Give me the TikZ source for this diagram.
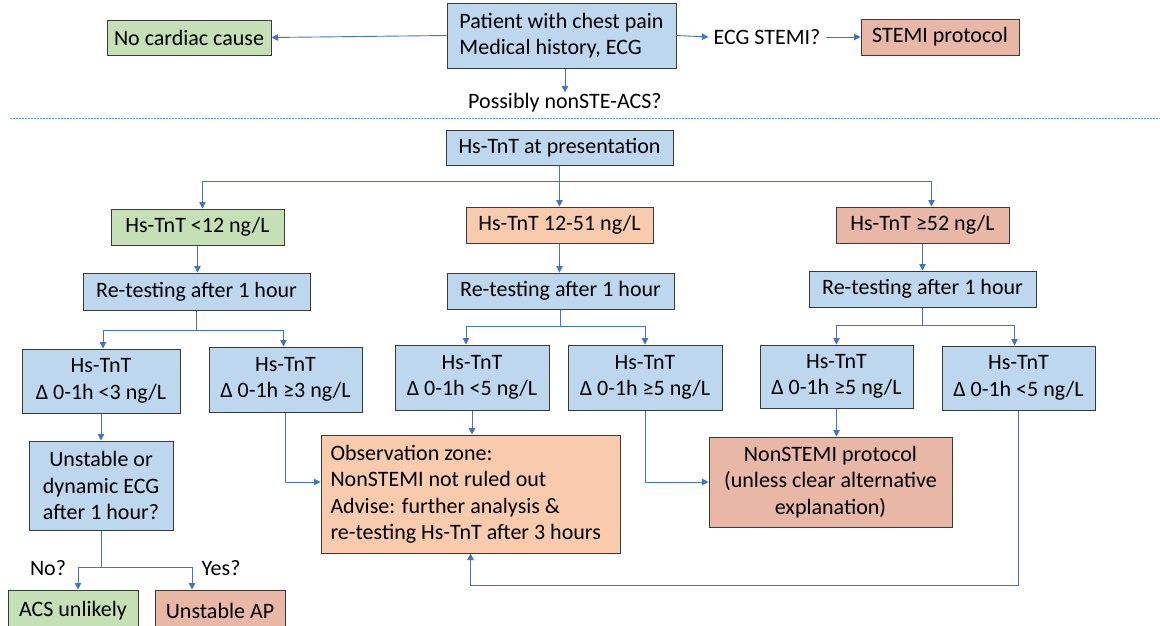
\documentclass[tikz,border=0pt]{standalone}
\usepackage{fontspec}
\setmainfont{Carlito}
\usetikzlibrary{arrows.meta,calc}
\definecolor{bfill}{HTML}{BDD7EE}
\definecolor{gfill}{HTML}{C5E0B4}
\definecolor{ofill}{HTML}{F8CBAD}
\definecolor{rfill}{HTML}{E9B7A6}
\definecolor{lcol}{HTML}{4472C4}
\definecolor{dcol}{HTML}{5B9BD5}
\definecolor{bcol}{HTML}{3A3A3A}
\tikzset{
  bx/.style={draw=bcol, line width=1pt, inner sep=2pt, font=\fontsize{22}{26.5}\selectfont, align=center},
  bluebx/.style={bx, fill=bfill},
  greenbx/.style={bx, fill=gfill},
  orangebx/.style={bx, fill=ofill},
  redbx/.style={bx, fill=rfill},
  lbl/.style={inner sep=1pt, font=\fontsize{22}{26.5}\selectfont},
  ln/.style={draw=lcol, line width=0.9pt},
  arr/.style={ln, -{Triangle[width=6.5pt,length=6.5pt]}},
  dotl/.style={draw=dcol, line width=0.8pt, dash pattern=on 1.5pt off 1.5pt}
}
\begin{document}
\begin{tikzpicture}[x=1pt,y=-1pt]
\clip (0,0) rectangle (1160,625);
\fill[white] (0,0) rectangle (1160,625);
% top
\node[greenbx, minimum width=164pt, minimum height=35pt] (nocard) at (189,37.5) {No cardiac cause};
\node[bluebx, minimum width=229pt, minimum height=65pt, align=left] (patient) at (561.5,35.5) {Patient with chest pain\\Medical history, ECG};
\node[lbl, inner xsep=5pt] (ecg) at (767,37) {ECG STEMI?};
\node[redbx, minimum width=158pt, minimum height=36pt] (stemi) at (940,37) {STEMI protocol};
\node[lbl] (possibly) at (565,103) {Possibly nonSTE-ACS?};
\draw[arr] (patient.west) -- (nocard.east);
\draw[arr] (patient.east) -- (ecg.west);
\draw[arr] (ecg.east) -- (stemi.west);
\draw[arr] ([xshift=3.5pt]patient.south) -- (possibly.north);
\coordinate (dl) at (10,118);
\coordinate (dr) at (1160,118);
\draw[dotl] (dl) -- (dr);
% presentation
\node[bluebx, minimum width=227pt, minimum height=35pt] (pres) at (559.5,147.5) {Hs-TnT at presentation};
\node[greenbx, minimum width=173pt, minimum height=36pt] (t1) at (197.5,227) {Hs-TnT <12 ng/L};
\node[orangebx, minimum width=187pt, minimum height=36pt] (t2) at (559.5,225) {Hs-TnT 12-51 ng/L};
\node[redbx, minimum width=173pt, minimum height=36pt] (t3) at (922.5,225) {Hs-TnT ≥52 ng/L};
\draw[ln] (pres.south) -- ++(0,16) coordinate (j0);
\draw[arr] (j0) -| ([xshift=5pt]t1.north);
\draw[arr] (j0) -- (t2.north);
\draw[arr] (j0) -| ([xshift=9pt]t3.north);
% retesting
\node[bluebx, minimum width=227pt, minimum height=37pt] (r1) at (196.5,291.5) {Re-testing after 1 hour};
\node[bluebx, minimum width=227pt, minimum height=36pt] (r2) at (560.5,291) {Re-testing after 1 hour};
\node[bluebx, minimum width=227pt, minimum height=36pt] (r3) at (922.5,289) {Re-testing after 1 hour};
\draw[arr] (t1.south) -- (t1.south |- r1.north);
\draw[arr] (t2.south) -- (t2.south |- r2.north);
\draw[arr] (t3.south) -- (t3.south |- r3.north);
% delta boxes
\node[bluebx, minimum width=158pt, minimum height=64pt] (d11) at (101,381) {Hs-TnT\\Δ 0-1h <3 ng/L};
\node[bluebx, minimum width=153pt, minimum height=65pt] (d12) at (285.5,379.5) {Hs-TnT\\Δ 0-1h ≥3 ng/L};
\node[bluebx, minimum width=154pt, minimum height=65pt] (d21) at (472,377.5) {Hs-TnT\\Δ 0-1h <5 ng/L};
\node[bluebx, minimum width=154pt, minimum height=65pt] (d22) at (645,377.5) {Hs-TnT\\Δ 0-1h ≥5 ng/L};
\node[bluebx, minimum width=153pt, minimum height=63pt] (d31) at (836.5,376.5) {Hs-TnT\\Δ 0-1h ≥5 ng/L};
\node[bluebx, minimum width=153pt, minimum height=64pt] (d32) at (1018.5,378) {Hs-TnT\\Δ 0-1h <5 ng/L};
\draw[ln] (r1.south) -- ++(0,20) coordinate (j1);
\draw[arr] (j1) -| ([xshift=2pt]d11.north);
\draw[arr] (j1) -| ([xshift=-2pt]d12.north);
\draw[ln] (r2.south) -- ++(0,17) coordinate (j2);
\draw[arr] (j2) -| ([xshift=-6pt]d21.north);
\draw[arr] (j2) -| (d22.north);
\draw[ln] (r3.south) -- ++(0,18) coordinate (j3);
\draw[arr] (j3) -| (d31.north);
\draw[arr] (j3) -| ([xshift=-4pt]d32.north);
% lower
\node[bluebx, minimum width=144pt, minimum height=89pt] (unst) at (101,485.5) {Unstable or\\dynamic ECG\\after 1 hour?};
\node[orangebx, minimum width=299pt, minimum height=118pt, text width=280pt, align=flush left] (obs) at (470.5,494) {Observation zone:\\NonSTEMI not ruled out\\Advise: further analysis \&\\re-testing Hs-TnT after 3 hours};
\node[redbx, minimum width=243pt, minimum height=90pt] (nonstemi) at (830.5,482) {NonSTEMI protocol\\(unless clear alternative\\explanation)};
\node[greenbx, minimum width=130pt, minimum height=42pt] (acs) at (73,611) {ACS unlikely};
\node[redbx, minimum width=130pt, minimum height=42pt] (uap) at (220,611) {Unstable AP};
\draw[arr] (d11.south) -- (d11.south |- unst.north);
\draw[arr] (d12.south) |- ([yshift=12pt]obs.west);
\draw[arr] (d21.south) -- (d21.south |- obs.north);
\draw[arr] (d22.south) |- (nonstemi.west);
\draw[arr] (d31.south) -- (d31.south |- nonstemi.north);
\draw[arr] (d32.south) -- ++(0,175) -| (obs.south);
\draw[ln] (unst.south) -- ++(0,37) coordinate (j4);
\draw[arr] (j4) -| ([xshift=5pt]acs.north);
\draw[arr] (j4) -| ([xshift=-28pt]uap.north);
\node[lbl] (no) at (48,568) {No?};
\node[lbl] (yes) at (221,568) {Yes?};
\end{tikzpicture}
\end{document}
